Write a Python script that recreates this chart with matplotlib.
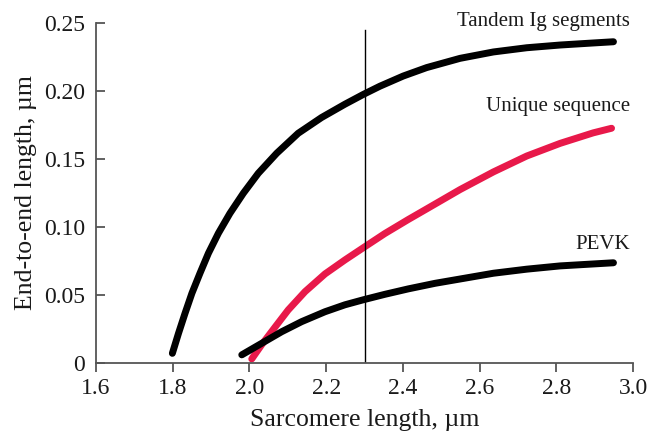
import matplotlib
matplotlib.use("Agg")
import matplotlib.pyplot as plt

# Data (sarcomere length, um -> end-to-end length, um)
sl_tandem = [1.799, 1.815, 1.832, 1.850, 1.871, 1.893, 1.919, 1.949, 1.984, 2.023, 2.071,
             2.127, 2.188, 2.249, 2.297, 2.340, 2.401, 2.462, 2.549, 2.636, 2.723, 2.810,
             2.896, 2.949]
len_tandem = [0.0071, 0.0218, 0.0365, 0.0513, 0.066, 0.0807, 0.0954, 0.110, 0.1248, 0.1395,
              0.1542, 0.1689, 0.1805, 0.1903, 0.1975, 0.2035, 0.2110, 0.2172, 0.2240, 0.2287,
              0.2318, 0.2338, 0.2353, 0.2362]

sl_unique = [2.006, 2.032, 2.067, 2.101, 2.145, 2.197, 2.249, 2.297, 2.353, 2.414, 2.462,
             2.549, 2.636, 2.723, 2.810, 2.896, 2.944]
len_unique = [0.003, 0.0135, 0.0265, 0.039, 0.0525, 0.0655, 0.0758, 0.0848, 0.0952, 0.1055,
              0.1133, 0.1275, 0.1405, 0.1522, 0.1615, 0.1692, 0.1726]

sl_pevk = [1.980, 2.032, 2.084, 2.136, 2.197, 2.249, 2.297, 2.353, 2.414, 2.484, 2.558,
           2.636, 2.723, 2.810, 2.949]
len_pevk = [0.006, 0.0145, 0.023, 0.0304, 0.0377, 0.0428, 0.0465, 0.0505, 0.0545, 0.0586,
            0.0622, 0.066, 0.0690, 0.0714, 0.0737]

marker_sl = 2.3
x_ticks = [1.6, 1.8, 2.0, 2.2, 2.4, 2.6, 2.8, 3.0]
y_ticks = [0, 0.05, 0.10, 0.15, 0.20, 0.25]
y_ticklabels = ["0", "0.05", "0.10", "0.15", "0.20", "0.25"]

plt.rcParams['font.family'] = ['Liberation Serif', 'DejaVu Serif']

fig = plt.figure(figsize=(6.51, 4.32), dpi=100)
ax = fig.add_axes([0.1475, 0.1597, 0.8249, 0.7871])

line_kw = dict(lw=5, solid_capstyle='round', solid_joinstyle='round')
ax.plot(sl_tandem, len_tandem, color='black', **line_kw)
ax.plot(sl_unique, len_unique, color='#e8194a', **line_kw)
ax.plot(sl_pevk, len_pevk, color='black', **line_kw)

# vertical reference line at 2.3 um
ax.plot([marker_sl, marker_sl], [0, 0.245], color='black', lw=1.0)

ax.text(2.992, 0.248, "Tandem Ig segments", ha='right', va='baseline', fontsize=15, color='#1a1a1a')
ax.text(2.992, 0.185, "Unique sequence", ha='right', va='baseline', fontsize=15, color='#1a1a1a')
ax.text(2.992, 0.084, "PEVK", ha='right', va='baseline', fontsize=15, color='#1a1a1a')

ax.set_xlim(1.6, 3.0)
ax.set_ylim(0, 0.25)
ax.set_xticks(x_ticks)
ax.set_xticklabels([f"{v:.1f}" for v in x_ticks])
ax.set_yticks(y_ticks)
ax.set_yticklabels(y_ticklabels)

for side in ['top', 'right']:
    ax.spines[side].set_visible(False)
for side in ['left', 'bottom']:
    ax.spines[side].set_color('#555555')
    ax.spines[side].set_linewidth(1.3)

ax.tick_params(axis='x', direction='out', length=6.5, width=1.3, color='#555555',
               labelsize=17, pad=4, labelcolor='#1a1a1a')
ax.tick_params(axis='y', direction='in', length=6.5, width=1.3, color='#555555',
               labelsize=17, pad=8, labelcolor='#1a1a1a')

ax.set_xlabel("Sarcomere length, µm", fontsize=18.5, color='#1a1a1a')
ax.set_ylabel("End-to-end length, µm", fontsize=18.5, color='#1a1a1a')
ax.xaxis.set_label_coords(0.5, -0.135)
ax.yaxis.set_label_coords(-0.11, 0.5)

fig.savefig("out.png", dpi=100)
